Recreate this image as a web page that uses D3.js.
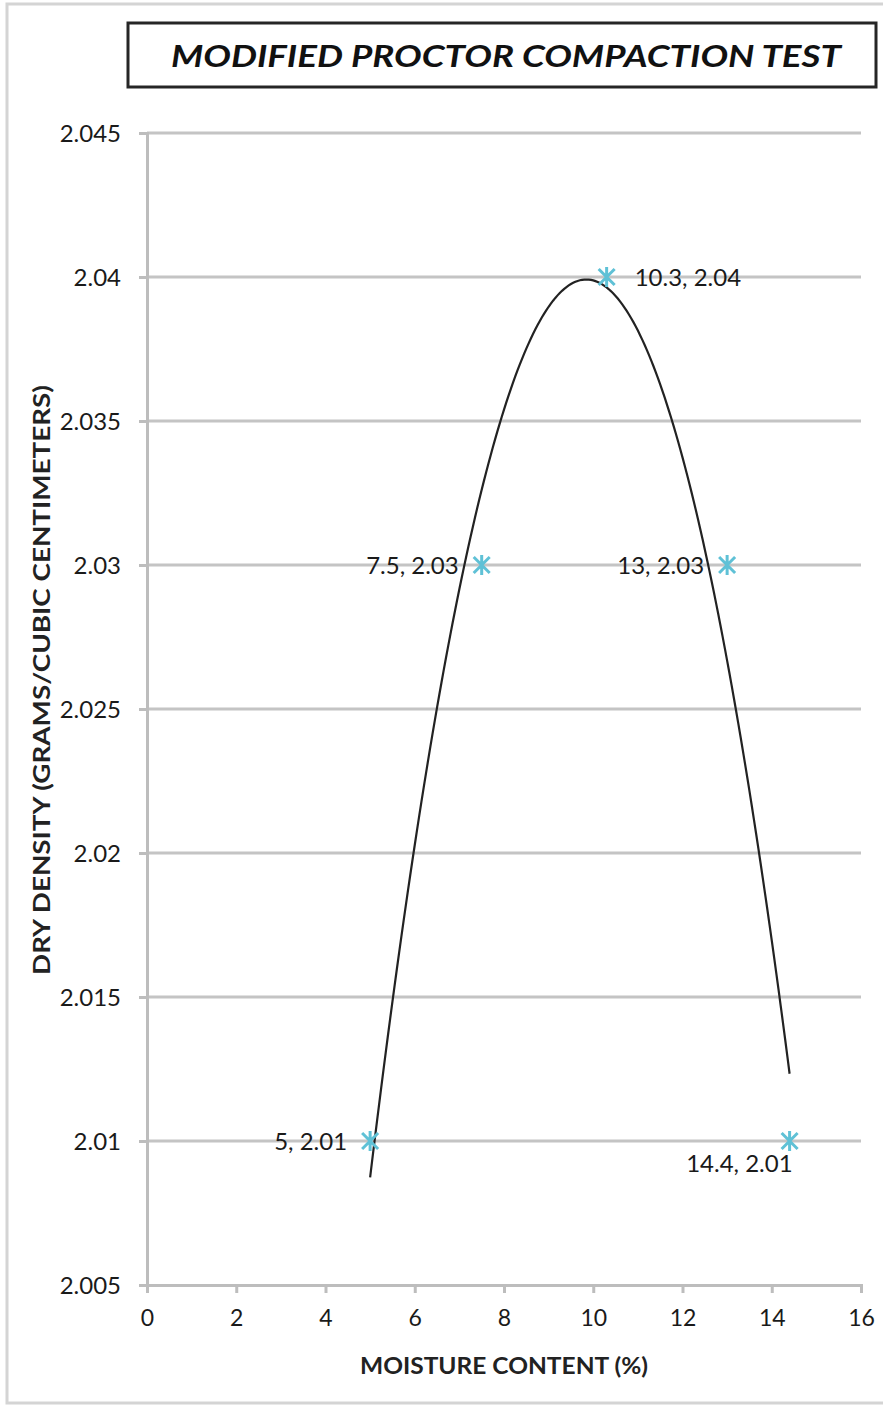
<!DOCTYPE html>
<html>
<head>
<meta charset="utf-8">
<script src="https://d3js.org/d3.v7.min.js"></script>
<style>
  body { margin: 0; background: #fff; }
  text { font-family: Lato, "Open Sans", sans-serif; }
</style>
</head>
<body>
<div id="chart"></div>
<script>
// data
const moisture = [5, 7.5, 10.3, 13, 14.4];
const dryDensity = [2.01, 2.03, 2.04, 2.03, 2.01];
const pointLabels = ["5, 2.01", "7.5, 2.03", "10.3, 2.04", "13, 2.03", "14.4, 2.01"];
const labelSide = ["left", "left", "right", "left", "below"];
const xTicks = [0, 2, 4, 6, 8, 10, 12, 14, 16];
const yTicks = [2.005, 2.01, 2.015, 2.02, 2.025, 2.03, 2.035, 2.04, 2.045];

const width = 883;
const height = 1407;

const svg = d3.select("#chart")
    .append("svg")
    .attr("width", width)
    .attr("height", height);

// outer chart border
svg.append("rect")
    .attr("x", 7).attr("y", 4)
    .attr("width", 900).attr("height", 1399)
    .attr("fill", "none")
    .attr("stroke", "#d4d4d4")
    .attr("stroke-width", 3);

// title box
svg.append("rect")
    .attr("x", 128).attr("y", 23)
    .attr("width", 748).attr("height", 64)
    .attr("fill", "#fff")
    .attr("stroke", "#262626")
    .attr("stroke-width", 3);

svg.append("text")
    .attr("x", 506).attr("y", 67)
    .attr("text-anchor", "middle")
    .attr("textLength", 670)
    .attr("lengthAdjust", "spacingAndGlyphs")
    .style("font-size", "31px")
    .style("font-weight", "bold")
    .style("font-style", "italic")
    .style("fill", "#111")
    .text("MODIFIED PROCTOR COMPACTION TEST");

const x = d3.scaleLinear().domain([0, 16]).range([147, 861]);
const y = d3.scaleLinear().domain([2.005, 2.045]).range([1285, 133]);

// gridlines
svg.append("g")
    .selectAll("line")
    .data(yTicks.slice(1))
    .enter().append("line")
    .attr("x1", x(0)).attr("x2", x(16))
    .attr("y1", d => y(d)).attr("y2", d => y(d))
    .attr("stroke", "#c4c4c4")
    .attr("stroke-width", 3);

// y axis
const yAxis = svg.append("g")
    .attr("transform", `translate(${x(0)},0)`)
    .call(d3.axisLeft(y).tickValues(yTicks).tickSize(8).tickPadding(18)
        .tickFormat(d => d3.format("")(+d.toFixed(3))));
yAxis.select(".domain").attr("stroke", "#bdbdbd").attr("stroke-width", 3);
yAxis.selectAll(".tick line").attr("stroke", "#bdbdbd").attr("stroke-width", 3);
yAxis.selectAll(".tick text")
    .style("font-size", "24px")
    .style("fill", "#1a1a1a")
    .attr("dy", "0.35em");

// x axis
const xAxis = svg.append("g")
    .attr("transform", `translate(0,${y(2.005)})`)
    .call(d3.axisBottom(x).tickValues(xTicks).tickSize(8).tickPadding(17));
xAxis.select(".domain").attr("stroke", "#bdbdbd").attr("stroke-width", 3);
xAxis.selectAll(".tick line").attr("stroke", "#bdbdbd").attr("stroke-width", 3);
xAxis.selectAll(".tick text")
    .style("font-size", "23px")
    .style("fill", "#1a1a1a");

// axis titles
svg.append("text")
    .attr("transform", "translate(50,680) rotate(-90)")
    .attr("text-anchor", "middle")
    .attr("textLength", 590)
    .attr("lengthAdjust", "spacingAndGlyphs")
    .style("font-size", "23px")
    .style("font-weight", "bold")
    .style("fill", "#222")
    .text("DRY DENSITY (GRAMS/CUBIC CENTIMETERS)");

svg.append("text")
    .attr("x", 504).attr("y", 1374)
    .attr("text-anchor", "middle")
    .attr("textLength", 288)
    .attr("lengthAdjust", "spacingAndGlyphs")
    .style("font-size", "23px")
    .style("font-weight", "bold")
    .style("fill", "#222")
    .text("MOISTURE CONTENT (%)");

// polynomial (order 2) least squares trendline, like the spreadsheet's
function polyFit(xs, ys, order) {
    const n = order + 1;
    const A = [];
    for (let i = 0; i < n; i++) {
        A.push([]);
        for (let j = 0; j <= n; j++) A[i].push(0);
    }
    xs.forEach((xv, k) => {
        for (let i = 0; i < n; i++) {
            for (let j = 0; j < n; j++) A[i][j] += Math.pow(xv, i + j);
            A[i][n] += Math.pow(xv, i) * ys[k];
        }
    });
    for (let i = 0; i < n; i++) {
        let p = i;
        for (let r = i + 1; r < n; r++) if (Math.abs(A[r][i]) > Math.abs(A[p][i])) p = r;
        const tmp = A[i]; A[i] = A[p]; A[p] = tmp;
        for (let r = 0; r < n; r++) {
            if (r === i) continue;
            const f = A[r][i] / A[i][i];
            for (let c = i; c <= n; c++) A[r][c] -= f * A[i][c];
        }
    }
    return A.map((row, i) => row[n] / row[i]);
}
const coef = polyFit(moisture, dryDensity, 2);
const trendX = d3.range(moisture[0], moisture[4] + 0.001, 0.05);
const trend = trendX.map(v => [v, coef[0] + coef[1] * v + coef[2] * v * v]);

svg.append("path")
    .datum(trend)
    .attr("d", d3.line().x(d => x(d[0])).y(d => y(d[1])))
    .attr("fill", "none")
    .attr("stroke", "#222")
    .attr("stroke-width", 2.2);

// star markers
const pts = moisture.map((m, i) => ({ m: m, d: dryDensity[i], label: pointLabels[i], side: labelSide[i] }));
const s = 8;
svg.append("g")
    .selectAll("path")
    .data(pts)
    .enter().append("path")
    .attr("transform", d => `translate(${x(d.m)},${y(d.d)})`)
    .attr("d", `M${-s},${-s}L${s},${s}M${-s},${s}L${s},${-s}M0,${-s - 2}L0,${s + 2}`)
    .attr("fill", "none")
    .attr("stroke", "#5fc1d6")
    .attr("stroke-width", 3);

// data labels
svg.append("g")
    .selectAll("text")
    .data(pts)
    .enter().append("text")
    .attr("x", d => d.side === "right" ? x(d.m) + 28 : d.side === "left" ? x(d.m) - 23 : x(d.m) + 3)
    .attr("y", d => d.side === "below" ? y(d.d) + 31 : y(d.d) + 9)
    .attr("text-anchor", d => d.side === "right" ? "start" : "end")
    .style("font-size", "24px")
    .style("fill", "#1a1a1a")
    .text(d => d.label);
</script>
</body>
</html>
